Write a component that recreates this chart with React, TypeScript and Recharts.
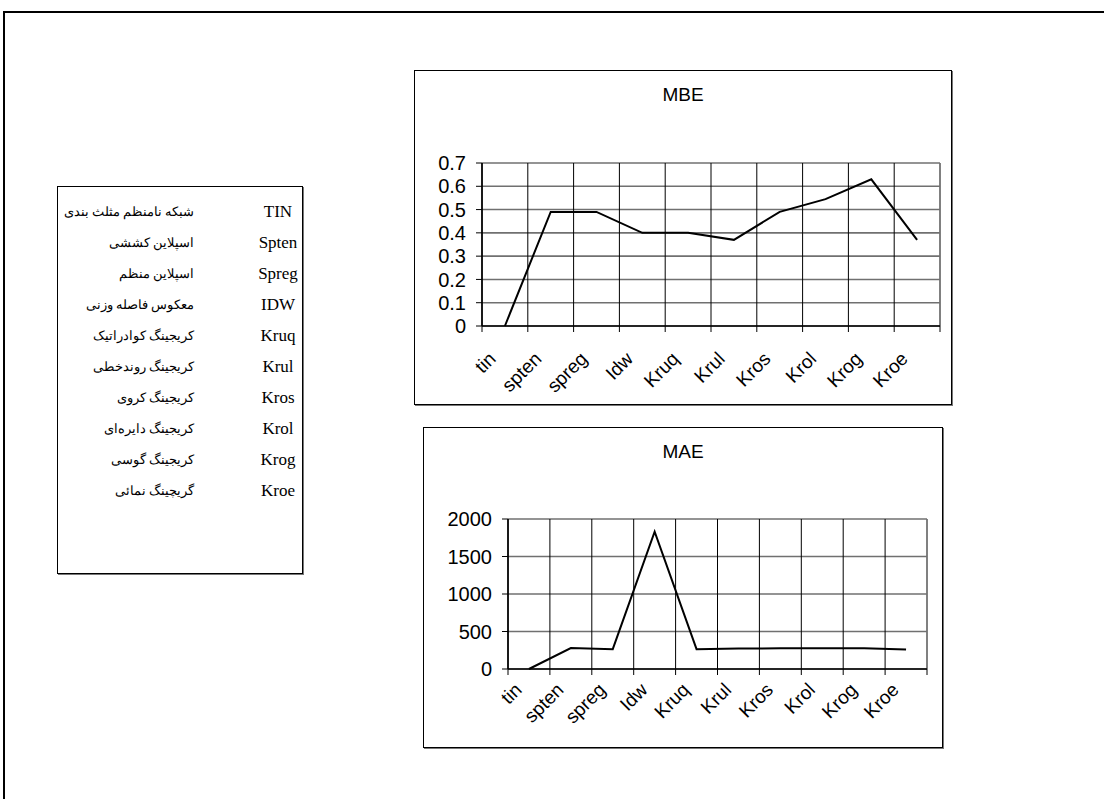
import React from "react"
import { LineChart, Line, XAxis, YAxis, CartesianGrid, ReferenceLine } from "recharts"

// category names used on both charts
const categories = ["tin", "spten", "spreg", "Idw", "Kruq", "Krul", "Kros", "Krol", "Krog", "Kroe"]

// values
const mbeValues = [0, 0.49, 0.49, 0.4, 0.4, 0.37, 0.49, 0.545, 0.63, 0.37]
const maeValues = [0, 280, 265, 1830, 265, 272, 276, 276, 276, 260]

const mbeTicks = [0, 0.1, 0.2, 0.3, 0.4, 0.5, 0.6, 0.7]
const maeTicks = [0, 500, 1000, 1500, 2000]

// legend table (code / persian name)
const legendCodes = ["TIN", "Spten", "Spreg", "IDW", "Kruq", "Krul", "Kros", "Krol", "Krog", "Kroe"]
const legendNames = [
    "شبکه نامنظم مثلث بندی",
    "اسپلاین کششی",
    "اسپلاین منظم",
    "معکوس فاصله وزنی",
    "کریجینگ کوادراتیک",
    "کریجینگ روندخطی",
    "کریجینگ کروی",
    "کریجینگ دایره‌ای",
    "کریجینگ گوسی",
    "گریچینگ نمائی",
]

const SANS = "'Liberation Sans', Arial, sans-serif"
const SERIF = "'Liberation Serif', 'Times New Roman', 'DejaVu Serif', serif"

interface ErrorChartProps {
    title: string
    values: number[]
    yTicks: number[]
    left: number
    top: number
    width: number
    height: number
    yAxisWidth: number
    marginTop: number
    marginRight: number
    labelDx: number
    labelDy: number
}

function ErrorChart(p: ErrorChartProps) {
    const n = categories.length
    const data = categories.map((name, i) => ({ pos: i + 0.5, name, value: p.values[i] }))
    // tick at every category boundary, label sits in the middle of the band to the right
    const boundaries = categories.map((_, i) => i).concat(n)
    const innerW = p.width - 2
    const innerH = p.height - 2
    const plotW = innerW - p.yAxisWidth - p.marginRight
    const band = plotW / n

    const CatTick = (props: any) => {
        const { x, y, payload } = props
        const i = payload.value
        if (i >= n) return null
        const bx = x + band / 2 + p.labelDx
        const by = y + p.labelDy
        return (
            <text
                x={bx}
                y={by}
                transform={`rotate(-45 ${bx} ${by})`}
                textAnchor="end"
                fontSize={19}
                fontFamily={SANS}
                fill="#000"
            >
                {categories[i]}
            </text>
        )
    }

    return (
        <div
            style={{
                position: "absolute",
                left: p.left,
                top: p.top,
                width: p.width - 2,
                height: p.height - 2,
                border: "1px solid #000",
                boxShadow: "1px 1px 0 #777",
                background: "#fff",
            }}
        >
            <div
                style={{
                    position: "absolute",
                    left: 0,
                    right: 0,
                    top: 13,
                    textAlign: "center",
                    fontFamily: SANS,
                    fontSize: 19,
                    color: "#000",
                }}
            >
                {p.title}
            </div>
            <LineChart
                width={innerW}
                height={innerH}
                data={data}
                margin={{ top: p.marginTop, right: p.marginRight, left: 0, bottom: 8 }}
            >
                <CartesianGrid vertical={false} stroke="#707070" strokeWidth={1.6} />
                <CartesianGrid horizontal={false} stroke="#000" strokeWidth={1} />
                <ReferenceLine x={n} stroke="#808080" strokeWidth={1.6} />
                <XAxis
                    dataKey="pos"
                    type="number"
                    domain={[0, n]}
                    ticks={boundaries}
                    interval={0}
                    height={70}
                    axisLine={{ stroke: "#000", strokeWidth: 1.6 }}
                    tickLine={{ stroke: "#000" }}
                    tick={<CatTick />}
                />
                <YAxis
                    type="number"
                    domain={[0, p.yTicks[p.yTicks.length - 1]]}
                    ticks={p.yTicks}
                    interval={0}
                    width={p.yAxisWidth}
                    axisLine={{ stroke: "#000", strokeWidth: 1.6 }}
                    tickLine={{ stroke: "#000" }}
                    tickMargin={10}
                    tick={{ fontSize: 20, fontFamily: SANS, fill: "#000" }}
                />
                <Line
                    type="linear"
                    dataKey="value"
                    stroke="#000"
                    strokeWidth={2}
                    dot={false}
                    isAnimationActive={false}
                />
            </LineChart>
        </div>
    )
}

function Legend() {
    return (
        <div
            style={{
                position: "absolute",
                left: 57,
                top: 186,
                width: 244,
                height: 386,
                border: "1px solid #000",
                boxShadow: "1px 1px 0 #777",
                background: "#fff",
            }}
        >
            {legendCodes.map((code, i) => (
                <React.Fragment key={code}>
                    <div
                        style={{
                            position: "absolute",
                            right: 108,
                            top: 13 + i * 31,
                            direction: "rtl",
                            whiteSpace: "nowrap",
                            fontFamily: SERIF,
                            fontSize: 12.5,
                            lineHeight: "24px",
                        }}
                    >
                        {legendNames[i]}
                    </div>
                    <div
                        style={{
                            position: "absolute",
                            left: 180,
                            width: 80,
                            top: 13 + i * 31,
                            textAlign: "center",
                            fontFamily: SERIF,
                            fontSize: 17,
                            lineHeight: "24px",
                        }}
                    >
                        {code}
                    </div>
                </React.Fragment>
            ))}
        </div>
    )
}

export default function App() {
    return (
        <div
            style={{
                position: "absolute",
                left: 0,
                top: 0,
                width: 1104,
                height: 799,
                overflow: "hidden",
                background: "#fff",
            }}
        >
            {/* outer frame, only top and left edges are visible */}
            <div
                style={{
                    position: "absolute",
                    left: 3,
                    top: 11,
                    width: 1300,
                    height: 1000,
                    borderTop: "2px solid #000",
                    borderLeft: "2px solid #000",
                }}
            />
            <Legend />
            <ErrorChart
                title="MBE"
                values={mbeValues}
                yTicks={mbeTicks}
                left={414}
                top={70}
                width={538}
                height={335}
                yAxisWidth={67}
                marginTop={92}
                marginRight={11}
                labelDx={-8}
                labelDy={26}
            />
            <ErrorChart
                title="MAE"
                values={maeValues}
                yTicks={maeTicks}
                left={423}
                top={427}
                width={520}
                height={321}
                yAxisWidth={84}
                marginTop={91}
                marginRight={15}
                labelDx={-6}
                labelDy={14}
            />
        </div>
    )
}
